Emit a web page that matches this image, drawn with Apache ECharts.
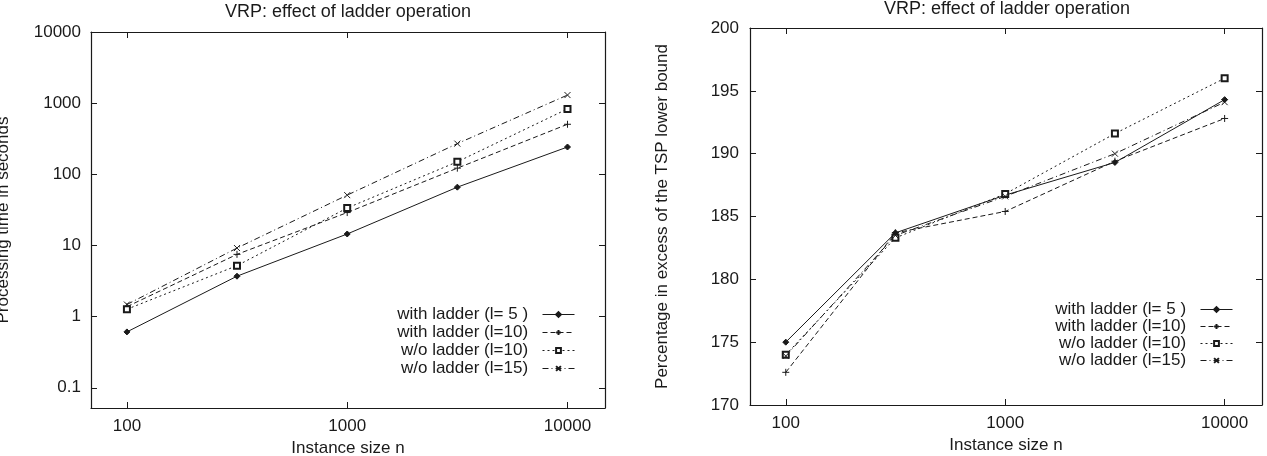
<!DOCTYPE html>
<html>
<head>
<meta charset="utf-8">
<script src="https://cdn.jsdelivr.net/npm/echarts@6/dist/echarts.min.js"></script>
<style>
  body { margin: 0; background: #fff; }
  #ins1, #ins2 { position: absolute; top: 0; height: 456px; }
  #ins1 { left: 0; width: 634px; }
  #ins2 { left: 634px; width: 633px; }
</style>
</head>
<body>
<div id="ins1"></div>
<div id="ins2"></div>
<script>
// series names, as in the gnuplot key
var names = ['with ladder (l= 5 )', 'with ladder (l=10)', 'w/o ladder (l=10)', 'w/o ladder (l=15)']
// instance sizes n
var sizes = [100, 316, 1000, 3162, 10000]

// left: processing time in seconds
var timeL5 = [0.61, 3.7, 14.5, 66, 242]
var timeL10 = [1.38, 7.5, 29, 122, 505]
var timeNoL10 = [1.27, 5.2, 33.6, 150, 830]
var timeNoL15 = [1.48, 9.2, 51, 270, 1300]

// right: percentage in excess of the TSP lower bound
var pctL5 = [175.0, 183.7, 186.7, 189.3, 194.3]
var pctL10 = [172.6, 183.7, 185.4, 189.4, 192.8]
var pctNoL10 = [174.0, 183.3, 186.8, 191.6, 196.0]
var pctNoL15 = [173.9, 183.5, 186.6, 190.0, 194.1]

// tick labels
var xTicks = [100, 1000, 10000]
var timeTicks = [0.1, 1, 10, 100, 1000, 10000]

var ink = '#1a1a1a'
var font = '"Liberation Sans", Arial, Helvetica, sans-serif'

var looks = [
  { type: 'solid', symbol: 'diamond', size: 6 },
  { type: [5, 3], symbol: 'path://M5,0L5,10M0,5L10,5', size: 7 },
  { type: [2, 3], symbol: 'emptyRect', size: 6 },
  { type: [6, 3, 1, 3], symbol: 'path://M0,0L10,10M10,0L0,10', size: 6 }
]

function pairs(ys) {
  return sizes.map(function (s, i) { return [s, ys[i]] })
}

function makeSeries(lists) {
  return lists.map(function (ys, i) {
    var lk = looks[i]
    return {
      name: names[i],
      type: 'line',
      data: pairs(ys),
      symbol: lk.symbol,
      symbolSize: lk.size,
      lineStyle: { color: ink, width: 1, type: lk.type },
      itemStyle: { color: ink, borderColor: ink, borderWidth: 1 },
      emphasis: { disabled: true }
    }
  })
}

function axis(kind, pos, range, ticks, showLabels, name, gap) {
  var a = {
    type: kind,
    position: pos,
    min: range[0],
    max: range[1],
    axisLine: { show: true, onZero: false, lineStyle: { color: ink, width: 1.2 } },
    axisTick: { show: true, inside: true, length: 6, lineStyle: { color: ink, width: 1 } },
    axisLabel: { show: showLabels, fontSize: 17, color: ink, fontFamily: font, margin: 10 },
    splitLine: { show: false }
  }
  if (kind === 'log') {
    a.logBase = 10
    a.axisTick.customValues = ticks
    a.axisLabel.customValues = ticks
    a.axisLabel.formatter = function (v) { return String(v) }
  } else {
    a.interval = ticks
    a.axisLabel.margin = 11
  }
  if (name) {
    a.name = name
    a.nameLocation = 'middle'
    a.nameGap = gap
    a.nameTextStyle = { fontSize: 17, color: ink, fontFamily: font }
  }
  return a
}

function buildOption(cfg) {
  var grid = cfg.grid
  grid.outerBoundsMode = 'none'
  grid.containLabel = false
  return {
    animation: false,
    textStyle: { fontFamily: font, color: ink },
    title: {
      text: 'VRP: effect of ladder operation',
      left: cfg.titleX,
      top: cfg.titleTop,
      padding: 0,
      textAlign: 'center',
      textStyle: { fontSize: 18, fontWeight: 'normal', color: ink, fontFamily: font }
    },
    legend: {
      data: names,
      orient: 'vertical',
      align: 'right',
      right: cfg.legendRight,
      top: cfg.legendTop,
      padding: 0,
      itemWidth: 32,
      itemHeight: 6,
      itemGap: cfg.legendGap,
      selectedMode: false,
      lineStyle: { width: 1 },
      formatter: function (n) { return n + '  ' },
      textStyle: { fontSize: 17, color: ink, fontFamily: font }
    },
    grid: grid,
    xAxis: [
      axis('log', 'bottom', cfg.xRange, xTicks, true, 'Instance size n', 27),
      axis('log', 'top', cfg.xRange, xTicks, false)
    ],
    yAxis: [
      axis(cfg.yKind, 'left', cfg.yRange, cfg.yTicks, true, cfg.yName, 79),
      axis(cfg.yKind, 'right', cfg.yRange, cfg.yTicks, false)
    ],
    series: makeSeries(cfg.lists)
  }
}

var option1 = buildOption({
  titleX: 348, titleTop: 3,
  legendRight: 59, legendTop: 306, legendGap: 1,
  grid: { left: 91, right: 29, top: 32, bottom: 48 },
  xRange: [68.7, 14800],
  yKind: 'log', yRange: [0.052, 10000], yTicks: timeTicks,
  yName: 'Processing time in seconds',
  lists: [timeL5, timeL10, timeNoL10, timeNoL15]
})

var option2 = buildOption({
  titleX: 373, titleTop: 0,
  legendRight: 34, legendTop: 301, legendGap: 0,
  grid: { left: 116, right: 5, top: 28, bottom: 51 },
  xRange: [68.7, 14800],
  yKind: 'value', yRange: [170, 200], yTicks: 5,
  yName: 'Percentage in excess of the TSP lower bound',
  lists: [pctL5, pctL10, pctNoL10, pctNoL15]
})

var chart1 = echarts.init(document.getElementById('ins1'))
chart1.setOption(option1)
var chart2 = echarts.init(document.getElementById('ins2'))
chart2.setOption(option2)
</script>
</body>
</html>
